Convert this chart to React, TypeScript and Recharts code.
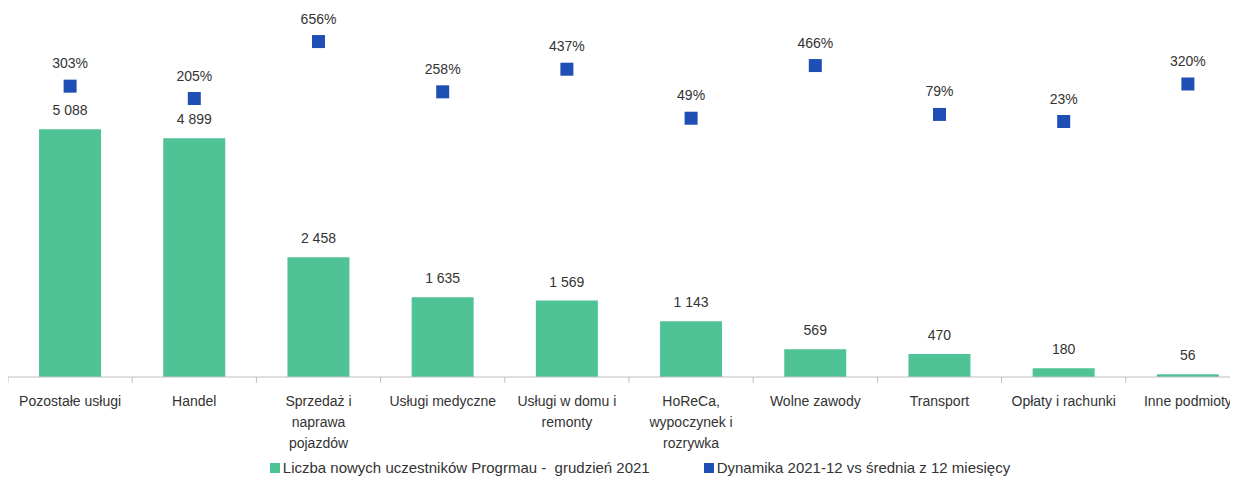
import { ComposedChart, Bar, Line, XAxis, YAxis, LabelList, Legend } from 'recharts';

const categories = [
    'Pozostałe usługi',
    'Handel',
    'Sprzedaż i naprawa pojazdów',
    'Usługi medyczne',
    'Usługi w domu i remonty',
    'HoReCa, wypoczynek i rozrywka',
    'Wolne zawody',
    'Transport',
    'Opłaty i rachunki',
    'Inne podmioty',
];

// how each category label wraps under the axis
const tickLines = [
    ['Pozostałe usługi'],
    ['Handel'],
    ['Sprzedaż i', 'naprawa', 'pojazdów'],
    ['Usługi medyczne'],
    ['Usługi w domu i', 'remonty'],
    ['HoReCa,', 'wypoczynek i', 'rozrywka'],
    ['Wolne zawody'],
    ['Transport'],
    ['Opłaty i rachunki'],
    ['Inne podmioty'],
];

const newParticipants = [5088, 4899, 2458, 1635, 1569, 1143, 569, 470, 180, 56];
const dynamics = [303, 205, 656, 258, 437, 49, 466, 79, 23, 320];

const data = categories.map((name, i) => ({
    name,
    count: newParticipants[i],
    dyn: dynamics[i],
}));

const GREEN = '#50C396';
const BLUE = '#1F4EB5';
const TEXT = '#333333';
const FONT = '"Liberation Sans", Arial, sans-serif';

const fmtThousands = (v: any) => String(v).replace(/\B(?=(\d{3})+(?!\d))/g, ' ');

const CategoryTick = (props: any) => {
    const { x, y, payload, index, width, visibleTicksCount } = props;
    const band = width / visibleTicksCount;
    const lines = tickLines[payload.index ?? index] || [payload.value];
    return (
        <g>
            <line x1={x - band / 2} x2={x - band / 2} y1={y} y2={y + 6} stroke="#BFBFBF" />
            {index === visibleTicksCount - 1 && (
                <line x1={x + band / 2} x2={x + band / 2} y1={y} y2={y + 6} stroke="#BFBFBF" />
            )}
            {lines.map((l: string, i: number) => (
                <text
                    key={i}
                    x={x}
                    y={y + 24 + i * 21}
                    textAnchor="middle"
                    dominantBaseline="central"
                    fill={TEXT}
                    fontSize={14}
                    fontFamily={FONT}
                >
                    {l}
                </text>
            ))}
        </g>
    );
};

const LegendContent = () => (
    <div
        style={{
            display: 'flex',
            justifyContent: 'center',
            gap: 54,
            paddingLeft: 22,
            paddingTop: 12,
            fontFamily: FONT,
            fontSize: 15,
            color: TEXT,
        }}
    >
        <span style={{ display: 'flex', alignItems: 'center' }}>
            <span style={{ width: 10, height: 10, background: GREEN, marginRight: 3 }} />
            Liczba nowych uczestników Progrmau -&nbsp; grudzień 2021
        </span>
        <span style={{ display: 'flex', alignItems: 'center' }}>
            <span style={{ width: 10, height: 10, background: BLUE, marginRight: 3 }} />
            Dynamika 2021-12 vs średnia z 12 miesięcy
        </span>
    </div>
);

const App = () => {
    return (
        <div style={{ width: 1230, overflow: 'hidden' }}>
            <ComposedChart
                data={data}
                width={1242}
                height={469}
                margin={{ top: 28, right: 0, bottom: 0, left: 0 }}
                barCategoryGap="25%"
            >
                <XAxis
                    dataKey="name"
                    interval={0}
                    height={70}
                    tickSize={0}
                    tickMargin={0}
                    tickLine={false}
                    axisLine={{ stroke: '#BFBFBF' }}
                    tick={<CategoryTick />}
                />
                <YAxis yAxisId="left" hide domain={[0, 7000]} />
                <YAxis yAxisId="right" orientation="right" hide domain={[-2000, 700]} />
                <Legend verticalAlign="bottom" height={30} content={<LegendContent />} />
                <Bar yAxisId="left" dataKey="count" fill={GREEN} isAnimationActive={false}>
                    <LabelList
                        dataKey="count"
                        position="top"
                        offset={14}
                        formatter={fmtThousands}
                        fill={TEXT}
                        fontSize={14}
                        fontFamily={FONT}
                    />
                </Bar>
                <Line
                    yAxisId="right"
                    dataKey="dyn"
                    stroke="none"
                    isAnimationActive={false}
                    activeDot={false}
                    dot={(p: any) => (
                        <rect key={`sq-${p.index}`} x={p.cx - 6.5} y={p.cy - 6.5} width={13} height={13} fill={BLUE} />
                    )}
                >
                    <LabelList
                        dataKey="dyn"
                        position="top"
                        offset={18}
                        formatter={(v: any) => `${v}%`}
                        fill={TEXT}
                        fontSize={14}
                        fontFamily={FONT}
                    />
                </Line>
            </ComposedChart>
        </div>
    );
};

export default App;
